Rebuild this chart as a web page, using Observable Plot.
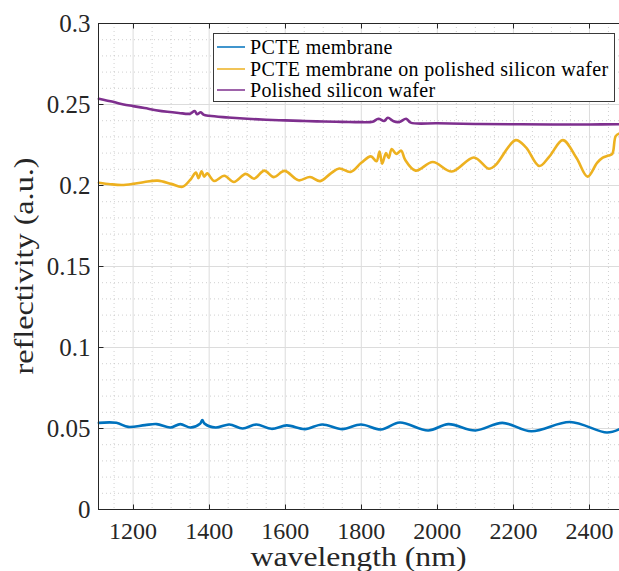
<!DOCTYPE html>
<html>
<head>
<meta charset="utf-8">
<script src="https://cdn.jsdelivr.net/npm/d3@7"></script>
<script src="https://cdn.jsdelivr.net/npm/@observablehq/plot@0.6"></script>
<style>
  body { margin: 0; background: #fff; }
  svg { display: block; }
</style>
</head>
<body>
<div id="chart"></div>
<script>
// ---- data ----
const seriesNames = ["PCTE membrane", "PCTE membrane on polished silicon wafer", "Polished silicon wafer"];
const seriesColors = ["#0072BD", "#EDB120", "#7E2F8E"];

const pcteWl = [1110, 1156, 1187, 1231, 1262, 1298, 1324, 1351, 1376, 1382, 1388, 1417, 1453, 1488, 1524, 1564, 1604, 1652, 1697, 1750, 1799, 1852, 1901, 1976, 2029, 2100, 2171, 2247, 2349, 2446, 2479];
const pcteR  = [0.0535, 0.0535, 0.0510, 0.0521, 0.0527, 0.0506, 0.0527, 0.0506, 0.0530, 0.0552, 0.0530, 0.0506, 0.0525, 0.0500, 0.0525, 0.0498, 0.0519, 0.0496, 0.0525, 0.0496, 0.0525, 0.0494, 0.0537, 0.0488, 0.0527, 0.0488, 0.0535, 0.0483, 0.0540, 0.0475, 0.0496];

const onSiWl = [1110, 1140, 1170, 1200, 1230, 1265, 1300, 1330, 1352, 1365, 1372, 1380, 1387, 1395, 1413, 1440, 1465, 1496, 1518, 1545, 1570, 1598, 1635, 1665, 1692, 1720, 1742, 1772, 1800, 1825, 1840, 1848, 1855, 1865, 1872, 1880, 1892, 1905, 1915, 1943, 1988, 2038, 2096, 2136, 2153, 2206, 2233, 2268, 2295, 2330, 2366, 2395, 2420, 2435, 2450, 2460, 2469, 2479];
const onSiR  = [0.2017, 0.2008, 0.2003, 0.2010, 0.2022, 0.2030, 0.2010, 0.1992, 0.2040, 0.2080, 0.2045, 0.2088, 0.2055, 0.2075, 0.2028, 0.2060, 0.2022, 0.2072, 0.2042, 0.2092, 0.2052, 0.2090, 0.2032, 0.2052, 0.2027, 0.2075, 0.2105, 0.2084, 0.2140, 0.2180, 0.2150, 0.2210, 0.2135, 0.2200, 0.2170, 0.2225, 0.2195, 0.2215, 0.2160, 0.2092, 0.2145, 0.2086, 0.2173, 0.2103, 0.2126, 0.2280, 0.2235, 0.2120, 0.2180, 0.2280, 0.2170, 0.2055, 0.2140, 0.2172, 0.2185, 0.2195, 0.2305, 0.2322];

const siWl = [1110, 1130, 1150, 1175, 1200, 1230, 1260, 1290, 1320, 1350, 1362, 1368, 1378, 1385, 1400, 1450, 1500, 1550, 1600, 1650, 1700, 1750, 1800, 1830, 1845, 1860, 1870, 1885, 1900, 1918, 1930, 2000, 2100, 2200, 2300, 2400, 2479];
const siR  = [0.2535, 0.2525, 0.2515, 0.2500, 0.2490, 0.2478, 0.2465, 0.2455, 0.2448, 0.2443, 0.2460, 0.2440, 0.2452, 0.2438, 0.2430, 0.2420, 0.2412, 0.2406, 0.2402, 0.2398, 0.2395, 0.2393, 0.2391, 0.2394, 0.2412, 0.2398, 0.2418, 0.2396, 0.2392, 0.2412, 0.2388, 0.2384, 0.2380, 0.2378, 0.2377, 0.2377, 0.2378];

const xDomain = [1109, 2479];
const yDomain = [0, 0.3];
const xTicks = [1200, 1400, 1600, 1800, 2000, 2200, 2400];
const xTickLabels = ["1200", "1400", "1600", "1800", "2000", "2200", "2400"];
const yTicks = [0, 0.05, 0.1, 0.15, 0.2, 0.25, 0.3];
const yTickLabels = ["0", "0.05", "0.1", "0.15", "0.2", "0.25", "0.3"];
const xMinor = [1150, 1250, 1300, 1350, 1450, 1500, 1550, 1650, 1700, 1750, 1850, 1900, 1950, 2050, 2100, 2150, 2250, 2300, 2350, 2450];
const yMinor = [0.01, 0.02, 0.03, 0.04, 0.06, 0.07, 0.08, 0.09, 0.11, 0.12, 0.13, 0.14, 0.16, 0.17, 0.18, 0.19, 0.21, 0.22, 0.23, 0.24, 0.26, 0.27, 0.28, 0.29];
const xLabel = "wavelength (nm)";
const yLabel = "reflectivity (a.u.)";

// ---- build tables ----
const toRows = (wl, r, s) => wl.map((w, i) => ({wl: w, r: r[i], s}));
const rows = [
  ...toRows(pcteWl, pcteR, seriesNames[0]),
  ...toRows(onSiWl, onSiR, seriesNames[1]),
  ...toRows(siWl, siR, seriesNames[2])
];

const font = "'Liberation Serif', 'Times New Roman', serif";
const ink = "#262626";

const chart = Plot.plot({
  width: 619,
  height: 571,
  marginLeft: 98,
  marginRight: 0,
  marginTop: 23,
  marginBottom: 62,
  x: {domain: xDomain},
  y: {domain: yDomain},
  color: {domain: seriesNames, range: seriesColors},
  style: {fontFamily: font, fontSize: "24px", color: ink, background: "#fff"},
  marks: [
    Plot.ruleX(xMinor, {stroke: "#c4c4c4", strokeDasharray: "1,3", strokeOpacity: 0.8}),
    Plot.ruleY(yMinor, {stroke: "#c4c4c4", strokeDasharray: "1,3", strokeOpacity: 0.8}),
    Plot.ruleX(xTicks, {stroke: "#dcdcdc"}),
    Plot.ruleY(yTicks, {stroke: "#dcdcdc"}),
    Plot.line(rows, {x: "wl", y: "r", z: "s", stroke: "s", strokeWidth: 2.6, curve: "catmull-rom"}),
    Plot.axisX({ticks: xTicks, tickSize: 0, tickPadding: 12, label: null,
      tickFormat: d => xTickLabels[xTicks.indexOf(d)], fontSize: 24}),
    Plot.axisY({ticks: yTicks, tickSize: 0, tickPadding: 8, label: null,
      tickFormat: d => yTickLabels[yTicks.indexOf(d)], fontSize: 25}),
    Plot.ruleX([xDomain[0]], {stroke: ink}),
    Plot.ruleY([yDomain[0], yDomain[1]], {stroke: ink})
  ]
});

document.getElementById("chart").appendChild(chart);

// ---- ticks (inward), titles, legend using the chart's scales ----
const sx = chart.scale("x"), sy = chart.scale("y");
const svg = d3.select(chart);
const tg = svg.append("g").attr("stroke", ink).attr("stroke-width", 1);
const yb = sy.apply(yDomain[0]) + 0.5, yt = sy.apply(yDomain[1]) + 0.5, xl = sx.apply(xDomain[0]) + 0.5;
xTicks.forEach(v => {
  const X = Math.round(sx.apply(v)) + 0.5;
  tg.append("line").attr("x1", X).attr("x2", X).attr("y1", yb).attr("y2", yb - 5);
  tg.append("line").attr("x1", X).attr("x2", X).attr("y1", yt).attr("y2", yt + 5);
});
yTicks.forEach(v => {
  const Y = Math.round(sy.apply(v)) + 0.5;
  tg.append("line").attr("x1", xl).attr("x2", xl + 5).attr("y1", Y).attr("y2", Y);
});

const cx = (sx.apply(xDomain[0]) + sx.apply(xDomain[1])) / 2;
const cy = (sy.apply(yDomain[0]) + sy.apply(yDomain[1])) / 2;
svg.append("text")
  .attr("x", cx).attr("y", 566)
  .attr("text-anchor", "middle")
  .attr("font-family", font).attr("font-size", 28)
  .attr("fill", ink)
  .attr("textLength", 216).attr("lengthAdjust", "spacingAndGlyphs")
  .text(xLabel);
svg.append("text")
  .attr("transform", `translate(33,${cy}) rotate(-90)`)
  .attr("text-anchor", "middle")
  .attr("font-family", font).attr("font-size", 28)
  .attr("fill", ink)
  .attr("textLength", 217).attr("lengthAdjust", "spacingAndGlyphs")
  .text(yLabel);

const lg = svg.append("g").attr("text-anchor", "start");
lg.append("rect").attr("x", 213.5).attr("y", 33.5).attr("width", 401).attr("height", 68)
  .attr("fill", "#fff").attr("stroke", "#3a3a3a").attr("stroke-width", 1);
const baselines = [54, 76, 97];
seriesNames.forEach((name, i) => {
  lg.append("line").attr("x1", 217).attr("x2", 245)
    .attr("y1", baselines[i] - 7).attr("y2", baselines[i] - 7)
    .attr("stroke", seriesColors[i]).attr("stroke-width", 1.5);
  lg.append("text").attr("x", 250).attr("y", baselines[i])
    .attr("text-anchor", "start")
    .attr("font-family", font).attr("font-size", 20).attr("letter-spacing", 0.35).attr("fill", "#000")
    .text(name);
});
</script>
</body>
</html>
